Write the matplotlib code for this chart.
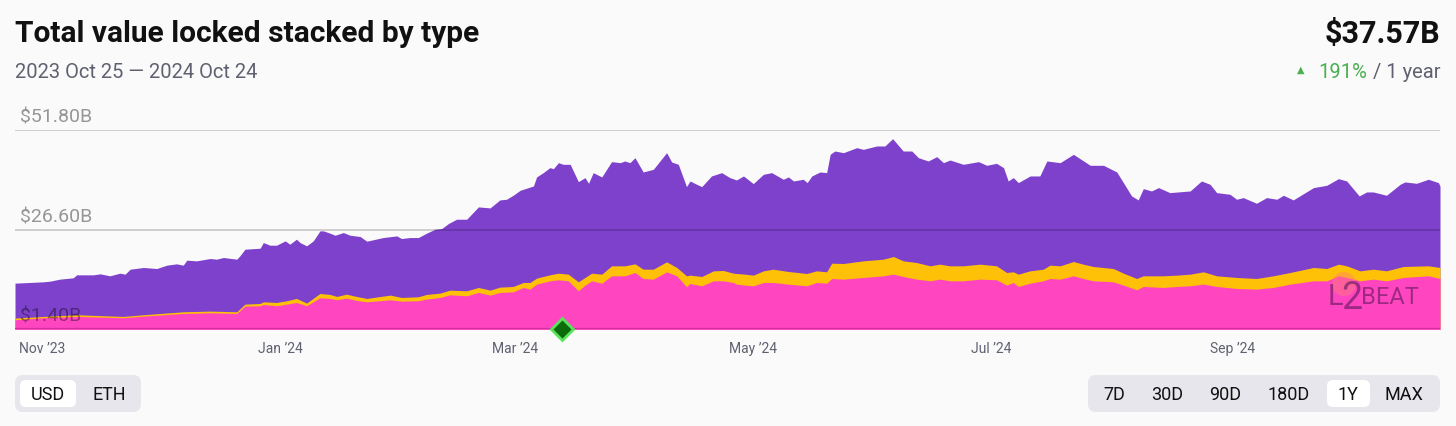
import numpy as np
import matplotlib
matplotlib.use("Agg")
import matplotlib.pyplot as plt
import matplotlib.dates as mdates
from matplotlib.patches import FancyBboxPatch, Ellipse
import datetime as dt

plt.rcParams['font.family'] = ['Roboto', 'DejaVu Sans']

# ---------------- data (USD billions, stacked boundaries) ----------------
start_date = dt.date(2023, 10, 25)
end_day = 365

# top of stack: canonical + external + native (total)
total_days = [0, 7.3, 9.0, 11.5, 14.9, 15.8, 20.1, 21.8, 24.3, 26.9, 28.2, 29.5, 32.9, 36.3, 38.9,
              41.4, 43.1, 44.0, 46.5, 50.0, 51.6, 53.4, 56.8, 57.6, 58.9, 62.8, 63.6, 65.3, 67.0,
              69.2, 70.4, 72.1, 73.0, 74.7, 76.4, 78.1, 79.0, 80.7, 82.0, 84.1, 85.8, 88.4, 90.1,
              94.3, 97.8, 99.0, 101.2, 103.3, 105.4, 107.6, 109.3, 111.0, 113.1, 115.7, 118.7,
              121.7, 124.2, 125.9, 127.6, 129.4, 132.8, 133.6, 135.3, 137.0, 137.9, 139.2, 140.4,
              142.2, 144.3, 146.0, 146.9, 148.1, 150.3, 152.8, 155.0, 156.2, 157.5, 158.8, 160.9,
              163.5, 166.9, 168.2, 169.9, 172.0, 172.9, 174.6, 175.9, 178.4, 181.0, 183.1, 184.8,
              186.6, 189.1, 191.7, 193.8, 196.8, 198.1, 199.4, 201.9, 202.9, 204.1, 206.2, 207.9,
              208.8, 210.0, 212.2, 215.6, 217.3, 220.7, 222.8, 224.8, 227.5, 229.7, 231.4, 233.9,
              236.1, 237.8, 239.5, 242.9, 246.8, 248.9, 251.4, 253.2, 254.4, 255.7, 257.0, 260.0,
              262.5, 264.3, 267.7, 271.1, 272.8, 275.4, 278.8, 282.2, 283.9, 286.0, 287.7, 289.0,
              291.1, 292.9, 295.8, 301.0, 303.9, 306.1, 307.8, 311.2, 312.9, 314.6, 318.0, 320.6,
              323.2, 324.9, 327.4, 332.6, 336.0, 339.0, 341.1, 344.3, 346.2, 347.9, 351.3, 354.8,
              356.0, 359.0, 362.0, 364.6, 365.0]
total_usd = [13.01, 13.35, 13.52, 14.03, 14.36, 15.12, 15.12, 15.37, 14.87, 15.54, 15.29, 16.55, 16.98, 16.72, 17.57,
             17.90, 17.57, 18.83, 18.66, 19.25, 19.08, 19.51, 19.08, 19.93, 21.61, 21.86, 23.30, 22.62, 22.62,
             23.72, 22.88, 24.14, 23.30, 22.46, 23.72, 26.25, 26.25, 25.66, 25.15, 25.83, 25.15, 24.82, 23.64,
             24.56, 24.98, 24.31, 24.56, 24.56, 25.66, 26.67, 26.84, 28.10, 29.20, 29.20, 32.32,
             32.07, 34.09, 34.26, 35.27, 36.53, 37.63, 39.91, 41.00, 42.27, 42.01, 43.53, 43.11,
             43.11, 38.72, 39.74, 38.30, 41.00, 39.91, 43.78, 43.53, 43.95, 43.53, 44.79, 41.17,
             41.84, 46.06, 43.70, 43.11, 37.46, 38.89, 38.05, 37.46, 40.16, 41.00, 39.74, 39.15,
             40.16, 38.22, 40.58, 41.00, 39.32, 39.91, 38.89, 39.32, 38.47, 40.16, 41.17, 41.00,
             45.64, 46.48, 46.06, 47.32, 46.90, 47.75, 47.75, 49.60, 46.48, 46.48, 44.79, 43.95,
             45.05, 43.53, 44.20, 43.11, 43.78, 42.86, 43.36, 42.27, 38.89, 39.74, 38.47, 40.16,
             40.16, 43.95, 43.53, 45.64, 44.54, 42.86, 42.86, 41.17, 38.47, 35.10, 34.09, 36.95,
             36.36, 37.21, 35.94, 36.36, 38.89, 38.05, 35.94, 35.52, 34.26, 34.68, 33.25, 34.68,
             34.26, 35.27, 34.09, 37.21, 37.80, 39.48, 38.89, 35.10, 36.11, 36.11, 35.27, 38.05,
             38.64, 38.30, 39.32, 38.47, 37.57]

# middle boundary: external + native
mid_days = [0, 7.3, 15.8, 27.7, 32.9, 43.1, 50.0, 56.8, 58.9, 62.8, 63.6, 67.0, 69.6, 72.1, 74.7,
            78.1, 80.7, 82.4, 84.9, 87.5, 90.1, 96.1, 99.0, 103.3, 105.4, 108.9, 111.4, 115.7,
            118.7, 121.7, 124.2, 127.6, 130.2, 131.9, 133.6, 137.0, 139.2, 141.7, 144.3, 146.0,
            147.7, 150.3, 152.8, 156.2, 158.8, 160.9, 163.5, 166.9, 169.5, 172.0, 172.9, 175.9,
            178.9, 181.4, 184.0, 184.8, 187.0, 189.1, 191.7, 194.2, 198.1, 202.8, 205.3, 207.9,
            209.2, 212.2, 217.3, 222.4, 225.0, 227.5, 230.9, 234.4, 236.9, 239.5, 242.9, 247.2,
            251.4, 254.0, 255.7, 257.0, 260.0, 263.4, 265.1, 267.7, 271.1, 273.6, 276.2, 281.3,
            283.9, 287.3, 289.0, 294.1, 297.6, 301.0, 304.4, 307.8, 312.9, 318.0, 322.3, 326.6,
            332.6, 336.0, 339.0, 341.1, 344.5, 347.9, 351.3, 355.6, 362.0, 365.0]
external_plus_native = [4.16, 4.58, 5.01, 4.58, 5.01, 5.76, 5.93, 5.76, 7.70, 7.87, 8.29, 8.12, 8.55, 9.14, 7.96,
                        10.40, 10.15, 9.64, 10.23, 9.64, 9.14, 9.98, 9.39, 9.56, 10.15, 10.49, 11.24, 11.07,
                        11.92, 11.24, 12.00, 12.17, 13.18, 13.18, 14.28, 15.12, 15.54, 15.29, 13.35, 14.45,
                        15.54, 15.29, 17.40, 17.40, 17.90, 16.55, 16.55, 18.41, 16.98, 14.87, 15.04, 14.70,
                        16.13, 16.22, 15.54, 15.46, 15.29, 15.04, 16.13, 16.55, 15.96, 15.46, 16.13, 15.88,
                        18.07, 17.99, 18.66, 19.08, 19.76, 18.66, 18.24, 17.40, 17.82, 17.40, 17.40, 17.82,
                        17.40, 15.71, 15.88, 15.29, 16.13, 16.55, 17.57, 17.40, 18.49, 17.82, 17.23, 16.72,
                        15.54, 14.19, 14.87, 14.87, 15.04, 15.29, 15.88, 14.87, 14.45, 14.19, 14.87, 15.71,
                        16.98, 16.72, 17.82, 17.40, 16.13, 16.55, 16.13, 17.23, 17.40, 16.98]

# bottom layer: natively minted
native = [3.74, 4.25, 4.58, 4.25, 4.67, 5.34, 5.51, 5.34, 7.20, 7.28, 7.62, 7.28, 7.70, 8.12, 7.28,
          9.30, 9.14, 8.80, 9.22, 8.63, 8.29, 8.80, 8.46, 8.55, 8.97, 9.39, 10.06, 9.81,
          10.65, 9.98, 10.65, 10.82, 11.92, 11.50, 12.76, 13.60, 13.86, 13.60, 11.07, 12.51,
          13.60, 13.01, 14.87, 14.87, 15.71, 14.19, 14.03, 15.88, 14.87, 12.09, 12.93, 12.34,
          13.60, 13.60, 13.18, 12.76, 12.51, 12.34, 13.18, 13.18, 12.76, 12.34, 13.18, 13.01,
          14.19, 14.03, 14.45, 14.87, 15.29, 14.70, 14.03, 13.60, 14.03, 13.60, 13.60, 14.03,
          13.86, 12.51, 13.18, 12.17, 13.01, 13.60, 14.19, 14.03, 14.87, 14.19, 13.60, 13.35,
          12.51, 11.33, 12.17, 11.92, 12.17, 12.34, 12.76, 12.17, 11.66, 11.50, 11.92, 12.76,
          13.60, 13.60, 14.87, 14.45, 13.60, 14.03, 13.60, 14.45, 14.87, 14.19]

y_ticks = [1.40, 26.60, 51.80]
y_tick_labels = ["$1.40B", "$26.60B", "$51.80B"]
dencun_day = 140
headline_value = "$37.57B"
headline_change = "191%"
date_range_label = "2023 Oct 25 \u2014 2024 Oct 24"

# ---------------- styling ----------------
BG = "#fafafa"
PURPLE = "#7e41cc"
YELLOW = "#ffc107"
PINK = "#ff46c0"

W, H = 1456, 427
fig = plt.figure(figsize=(W / 100, H / 100), dpi=100, facecolor=BG)

def fx(x):
    return x / W

def fy(y):
    return 1 - y / H

ax = fig.add_axes([fx(15), fy(330), (1440 - 15) / W, (330 - 131) / H])
ax.set_facecolor(BG)

base = mdates.date2num(start_date)
to_x = lambda d: base + np.asarray(d, dtype=float)

ax.fill_between(to_x(total_days), 0, total_usd, color=PURPLE, lw=0, zorder=1)
ax.fill_between(to_x(mid_days), 0, external_plus_native, color=YELLOW, lw=0, zorder=2)
ax.fill_between(to_x(mid_days), 0, native, color=PINK, lw=0, zorder=3)

ax.set_xlim(base, base + end_day)
ax.set_ylim(y_ticks[0], y_ticks[-1])

for v in y_ticks[1:]:
    ax.axhline(v, color=(0, 0, 0, 0.22), lw=1.1, zorder=5)
ax.axhline(y_ticks[0], color="#d0329e", lw=1.6, zorder=5)

for v, lab in zip(y_ticks, y_tick_labels):
    ax.annotate(lab, xy=(0, v), xycoords=("axes fraction", "data"),
                xytext=(5, 4), textcoords="offset pixels", ha="left", va="bottom",
                fontsize=14, color=(0, 0, 0, 0.40), zorder=6)

for s in ax.spines.values():
    s.set_visible(False)
ax.tick_params(axis="y", left=False, labelleft=False)
ax.xaxis.set_major_locator(mdates.MonthLocator(bymonth=[11, 1, 3, 5, 7, 9]))
ax.xaxis.set_major_formatter(mdates.DateFormatter("%b \u2019%y"))
ax.tick_params(axis="x", length=0, pad=9, labelsize=10, labelcolor="#5f6170")

# Dencun marker
ax.plot([base + dencun_day], [y_ticks[0]], marker="D", ms=11, mfc="#0b6b0b", mec="#59e35a",
        mew=2, clip_on=False, zorder=10)

# L2BEAT watermark
fig.add_artist(Ellipse((fx(1344), fy(285)), 24 / W, 24 / H, transform=fig.transFigure,
                       fc=(1.0, 0.5, 0.45, 0.45), ec="none", zorder=7))
fig.text(fx(1328), fy(297), "L", fontsize=21, color=(0.42, 0.1, 0.38, 0.65),
         ha="left", va="center", zorder=8)
fig.text(fx(1341), fy(299), "2", fontsize=27, color=(0.42, 0.1, 0.38, 0.65),
         ha="left", va="center", zorder=8)
fig.text(fx(1361), fy(297), "BEAT", fontsize=17, color=(0.42, 0.1, 0.38, 0.65),
         ha="left", va="center", zorder=8)

# ---------------- header ----------------
fig.text(fx(15), fy(34), "Total value locked stacked by type", fontsize=21.5, fontweight="bold",
         color="#111111", ha="left", va="center")
fig.text(fx(15), fy(72), date_range_label, fontsize=14.5, color="#5f6170", ha="left", va="center")
fig.text(fx(1440), fy(34), headline_value, fontsize=22, fontweight="bold", color="#111111",
         ha="right", va="center")
t2 = fig.text(fx(1440), fy(72), " / 1 year", fontsize=14.5, color="#5f6170", ha="right", va="center")
fig.canvas.draw()
bb = t2.get_window_extent()
t1 = fig.text(bb.x0 / W, fy(72), headline_change, fontsize=14.5, color="#4caf50", ha="right", va="center")
fig.canvas.draw()
bb1 = t1.get_window_extent()
fig.text((bb1.x0 - 14) / W, fy(70), "\u25B2", fontsize=7, color="#4caf50", ha="right", va="center")

# ---------------- buttons ----------------
def pill(x0, y0, x1, y1, color, rad=8):
    p = FancyBboxPatch((fx(x0), fy(y1)), fx(x1 - x0), (y1 - y0) / H,
                       boxstyle=f"round,pad=0,rounding_size={rad / W}",
                       transform=fig.transFigure, fc=color, ec="none",
                       mutation_aspect=W / H)
    fig.add_artist(p)

pill(15, 376, 141, 413, "#e6e6ec")
pill(20, 381, 76, 408, "#ffffff", rad=6)
for x, lab in [(48, "USD"), (109, "ETH")]:
    fig.text(fx(x), fy(395), lab, fontsize=13, color="#111111", ha="center", va="center")

pill(1088, 376, 1440, 413, "#e6e6ec")
pill(1327, 381, 1370, 408, "#ffffff", rad=6)
for x, lab in [(1114, "7D"), (1167, "30D"), (1225, "90D"), (1289, "180D"), (1348, "1Y"), (1404, "MAX")]:
    fig.text(fx(x), fy(395), lab, fontsize=13, color="#111111", ha="center", va="center")

fig.savefig("out.png", dpi=100, facecolor=BG)
